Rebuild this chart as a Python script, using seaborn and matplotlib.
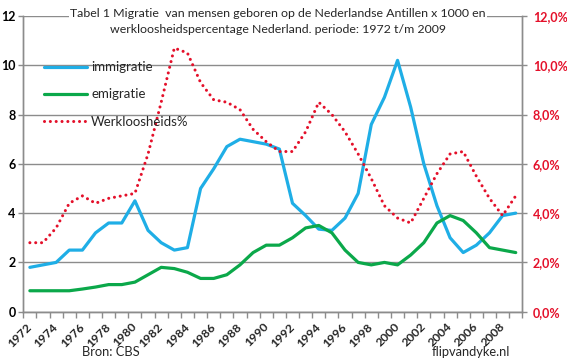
import matplotlib
matplotlib.use("Agg")
import matplotlib.pyplot as plt
import seaborn as sns
import pandas as pd
from matplotlib.ticker import FixedLocator, FuncFormatter

years = list(range(1972, 2010))
immigratie = [1.8, 1.9, 2.0, 2.5, 2.5, 3.2, 3.6, 3.6, 4.5, 3.3,
              2.8, 2.5, 2.6, 5.0, 5.8, 6.7, 7.0, 6.9, 6.8, 6.6,
              4.4, 3.9, 3.35, 3.3, 3.8, 4.8, 7.6, 8.7, 10.2, 8.3,
              6.0, 4.3, 3.0, 2.4, 2.7, 3.2, 3.9, 4.0]
emigratie = [0.85, 0.85, 0.85, 0.85, 0.92, 1.0, 1.1, 1.1, 1.2, 1.5,
             1.8, 1.75, 1.6, 1.35, 1.35, 1.5, 1.9, 2.4, 2.7, 2.7,
             3.0, 3.4, 3.5, 3.2, 2.5, 2.0, 1.9, 2.0, 1.9, 2.3,
             2.8, 3.6, 3.9, 3.7, 3.2, 2.6, 2.5, 2.4]
werkloosheid = [2.8, 2.8, 3.4, 4.4, 4.7, 4.4, 4.6, 4.7, 4.8, 6.4,
                8.5, 10.7, 10.5, 9.3, 8.6, 8.5, 8.2, 7.4, 6.9, 6.5,
                6.5, 7.3, 8.5, 8.0, 7.3, 6.4, 5.4, 4.3, 3.8, 3.6,
                4.6, 5.6, 6.4, 6.5, 5.5, 4.6, 3.9, 4.7]
left_ticks = [0, 2, 4, 6, 8, 10, 12]
right_ticks = [0, 2, 4, 6, 8, 10, 12]
year_labels = list(range(1972, 2009, 2))
labels = ["immigratie", "emigratie", "Werkloosheids%"]
title = ("Tabel 1 Migratie  van mensen geboren op de Nederlandse Antillen x 1000 en\n"
         "werkloosheidspercentage Nederland. periode: 1972 t/m 2009")

df = pd.DataFrame({"jaar": years, "imm": immigratie, "emi": emigratie, "wl": werkloosheid})

sns.set_theme(style="white")
FONT = ["Lato", "DejaVu Sans"]
plt.rcParams["font.family"] = FONT

BLUE = "#1FAEE6"
GREEN = "#0BA84A"
RED = "#E4102A"
GRID = "#8C8C8C"

fig = plt.figure(figsize=(5.67, 3.64), dpi=100)
ax = fig.add_axes([23.3 / 567, 1 - 311.7 / 364, (522.3 - 23.3) / 567, (311.7 - 16) / 364])
ax2 = ax.twinx()

sns.lineplot(data=df, x="jaar", y="imm", ax=ax, color=BLUE, lw=2.3, label=labels[0], legend=False)
sns.lineplot(data=df, x="jaar", y="emi", ax=ax, color=GREEN, lw=2.3, label=labels[1], legend=False)
sns.lineplot(data=df, x="jaar", y="wl", ax=ax2, color=RED, lw=2.2, label=labels[2], legend=False)
ax2.lines[0].set_linestyle((0, (0.01, 1.9)))
ax2.lines[0].set_dash_capstyle("round")

for a in (ax, ax2):
    a.set_xlim(1971.5, 2009.5)
    a.set_ylim(0, 12)
    a.set_xlabel("")
    a.set_ylabel("")
    for s in a.spines.values():
        s.set_color(GRID)
        s.set_linewidth(1.0)
    a.spines["top"].set_visible(False)

ax.yaxis.set_major_locator(FixedLocator(left_ticks))
ax.set_yticklabels([str(v) for v in left_ticks], fontweight="bold", fontsize=9, color="black")
ax.yaxis.grid(True, color=GRID, lw=1.0)
ax.set_axisbelow(True)
ax.tick_params(axis="y", length=3.5, width=1.0, color=GRID, pad=2)

ax2.yaxis.set_major_locator(FixedLocator(right_ticks))
ax2.yaxis.set_major_formatter(FuncFormatter(lambda v, p: f"{v:.1f}%".replace(".", ",")))
ax2.tick_params(axis="y", length=3.5, width=1.0, color=GRID, pad=4, labelcolor=RED)
for t in ax2.get_yticklabels():
    t.set_fontweight("bold")
    t.set_fontsize(9)

ax.xaxis.set_major_locator(FixedLocator(year_labels))
ax.set_xticklabels([str(y) for y in year_labels], rotation=45, ha="right", va="center",
                   rotation_mode="anchor", fontweight="bold", fontsize=8.8)
ax.xaxis.set_minor_locator(FixedLocator([y - 0.5 for y in years] + [years[-1] + 0.5]))
ax.tick_params(axis="x", which="major", length=0, pad=9.5)
ax.tick_params(axis="x", which="minor", length=4, width=1.0, color=GRID, bottom=True)
ax2.tick_params(axis="x", which="both", length=0)

h1, l1 = ax.get_legend_handles_labels()
h2, l2 = ax2.get_legend_handles_labels()
leg = ax2.legend(h1 + h2, l1 + l2, loc="upper left", bbox_to_anchor=(0.03, 0.865),
                 frameon=False, fontsize=9.5, handlelength=3.3, handletextpad=0.3,
                 labelspacing=1.15, borderaxespad=0)

fig.text(278 / 567, 1 - 8 / 364, title, ha="center", va="top", fontsize=8.9,
         linespacing=1.6, bbox=dict(facecolor="white", edgecolor="none", pad=1))
fig.text(82 / 567, 1 - 352 / 364, "Bron: CBS", ha="left", va="center", fontsize=9.3)
fig.text(510 / 567, 1 - 352 / 364, "flipvandyke.nl", ha="right", va="center", fontsize=9.3)

fig.savefig("out.png", dpi=100)
